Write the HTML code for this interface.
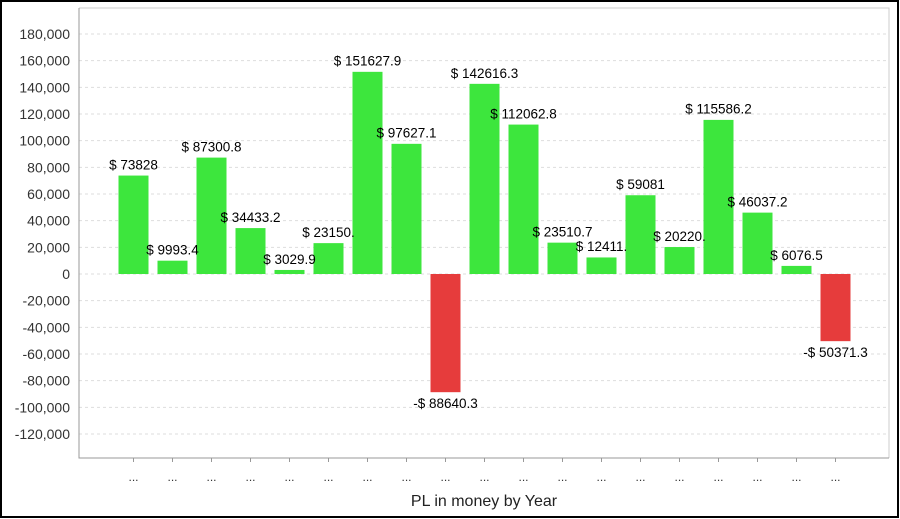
<!DOCTYPE html>
<html><head><style>body{margin:0;background:#fff}svg{display:block}</style></head><body>
<svg width="900" height="519" xmlns="http://www.w3.org/2000/svg" font-family="Liberation Sans, sans-serif">
<rect x="1" y="1" width="897" height="516" fill="#fff" stroke="#000" stroke-width="2"/>
<g stroke="#ddd" stroke-dasharray="3,3">
<line x1="79" x2="889" y1="34" y2="34"/><line x1="79" x2="889" y1="60.67" y2="60.67"/><line x1="79" x2="889" y1="87.33" y2="87.33"/><line x1="79" x2="889" y1="114" y2="114"/><line x1="79" x2="889" y1="140.67" y2="140.67"/><line x1="79" x2="889" y1="167.33" y2="167.33"/><line x1="79" x2="889" y1="194" y2="194"/><line x1="79" x2="889" y1="220.67" y2="220.67"/><line x1="79" x2="889" y1="247.33" y2="247.33"/><line x1="79" x2="889" y1="274" y2="274"/><line x1="79" x2="889" y1="300.67" y2="300.67"/><line x1="79" x2="889" y1="327.33" y2="327.33"/><line x1="79" x2="889" y1="354" y2="354"/><line x1="79" x2="889" y1="380.67" y2="380.67"/><line x1="79" x2="889" y1="407.33" y2="407.33"/><line x1="79" x2="889" y1="434" y2="434"/>
</g>
<g font-size="14" text-anchor="end" fill="#333">
<text x="70" y="39">180,000</text><text x="70" y="65.67">160,000</text><text x="70" y="92.33">140,000</text><text x="70" y="119">120,000</text><text x="70" y="145.67">100,000</text><text x="70" y="172.33">80,000</text><text x="70" y="199">60,000</text><text x="70" y="225.67">40,000</text><text x="70" y="252.33">20,000</text><text x="70" y="279">0</text><text x="70" y="305.67">-20,000</text><text x="70" y="332.33">-40,000</text><text x="70" y="359">-60,000</text><text x="70" y="385.67">-80,000</text><text x="70" y="412.33">-100,000</text><text x="70" y="439">-120,000</text>
</g>
<g fill="#3de63d">
<rect x="118.5" y="175.56" width="30" height="98.44"/>
<rect x="157.5" y="260.68" width="30" height="13.32"/>
<rect x="196.5" y="157.6" width="30" height="116.4"/>
<rect x="235.5" y="228.09" width="30" height="45.91"/>
<rect x="274.5" y="269.96" width="30" height="4.04"/>
<rect x="313.5" y="243.13" width="30" height="30.87"/>
<rect x="352.5" y="71.83" width="30" height="202.17"/>
<rect x="391.5" y="143.83" width="30" height="130.17"/>
<rect x="469.5" y="83.84" width="30" height="190.16"/>
<rect x="508.5" y="124.58" width="30" height="149.42"/>
<rect x="547.5" y="242.65" width="30" height="31.35"/>
<rect x="586.5" y="257.45" width="30" height="16.55"/>
<rect x="625.5" y="195.23" width="30" height="78.77"/>
<rect x="664.5" y="247.04" width="30" height="26.96"/>
<rect x="703.5" y="119.89" width="30" height="154.11"/>
<rect x="742.5" y="212.62" width="30" height="61.38"/>
<rect x="781.5" y="265.9" width="30" height="8.1"/>
</g>
<g fill="#e63c3c">
<rect x="430.5" y="274" width="30" height="118.19"/>
<rect x="820.5" y="274" width="30" height="67.16"/>
</g>
<g font-size="13.5" text-anchor="middle" fill="#000">
<text x="133.5" y="169.5">$ 73828</text>
<text x="172.5" y="254.5">$ 9993.4</text>
<text x="211.5" y="151.5">$ 87300.8</text>
<text x="250.5" y="222">$ 34433.2</text>
<text x="289.5" y="264">$ 3029.9</text>
<text x="328.5" y="237">$ 23150.</text>
<text x="367.5" y="65.5">$ 151627.9</text>
<text x="406.5" y="137.5">$ 97627.1</text>
<text x="445.5" y="408">-$ 88640.3</text>
<text x="484.5" y="78">$ 142616.3</text>
<text x="523.5" y="118.5">$ 112062.8</text>
<text x="562.5" y="236.5">$ 23510.7</text>
<text x="601.5" y="251">$ 12411.</text>
<text x="640.5" y="189">$ 59081</text>
<text x="679.5" y="241">$ 20220.</text>
<text x="718.5" y="113.5">$ 115586.2</text>
<text x="757.5" y="206.5">$ 46037.2</text>
<text x="796.5" y="260">$ 6076.5</text>
<text x="835.5" y="357">-$ 50371.3</text>
</g>
<g stroke="#999">
<line x1="133.5" x2="133.5" y1="458" y2="462"/><line x1="172.5" x2="172.5" y1="458" y2="462"/><line x1="211.5" x2="211.5" y1="458" y2="462"/><line x1="250.5" x2="250.5" y1="458" y2="462"/><line x1="289.5" x2="289.5" y1="458" y2="462"/><line x1="328.5" x2="328.5" y1="458" y2="462"/><line x1="367.5" x2="367.5" y1="458" y2="462"/><line x1="406.5" x2="406.5" y1="458" y2="462"/><line x1="445.5" x2="445.5" y1="458" y2="462"/><line x1="484.5" x2="484.5" y1="458" y2="462"/><line x1="523.5" x2="523.5" y1="458" y2="462"/><line x1="562.5" x2="562.5" y1="458" y2="462"/><line x1="601.5" x2="601.5" y1="458" y2="462"/><line x1="640.5" x2="640.5" y1="458" y2="462"/><line x1="679.5" x2="679.5" y1="458" y2="462"/><line x1="718.5" x2="718.5" y1="458" y2="462"/><line x1="757.5" x2="757.5" y1="458" y2="462"/><line x1="796.5" x2="796.5" y1="458" y2="462"/><line x1="835.5" x2="835.5" y1="458" y2="462"/>
</g>
<g font-size="12" text-anchor="middle" fill="#333">
<text x="133.5" y="481">...</text><text x="172.5" y="481">...</text><text x="211.5" y="481">...</text><text x="250.5" y="481">...</text><text x="289.5" y="481">...</text><text x="328.5" y="481">...</text><text x="367.5" y="481">...</text><text x="406.5" y="481">...</text><text x="445.5" y="481">...</text><text x="484.5" y="481">...</text><text x="523.5" y="481">...</text><text x="562.5" y="481">...</text><text x="601.5" y="481">...</text><text x="640.5" y="481">...</text><text x="679.5" y="481">...</text><text x="718.5" y="481">...</text><text x="757.5" y="481">...</text><text x="796.5" y="481">...</text><text x="835.5" y="481">...</text>
</g>
<path d="M79 8 H889 V458" fill="none" stroke="#ccc"/>
<path d="M79 8 V458 H889" fill="none" stroke="#999"/>
<text x="484" y="506" font-size="16" text-anchor="middle" fill="#222">PL in money by Year</text>
</svg></body></html>
